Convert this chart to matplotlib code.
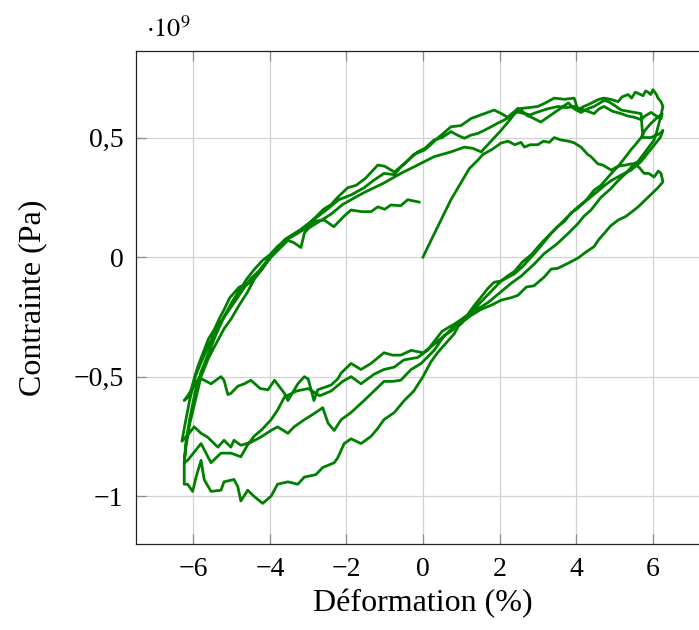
import numpy as np
import matplotlib
matplotlib.use("Agg")
import matplotlib.pyplot as plt
from matplotlib.ticker import FuncFormatter

# ================= STYLE ================= #
plt.rcParams['font.family'] = ['Liberation Serif', 'DejaVu Serif']
plt.rcParams['mathtext.fontset'] = 'stix'

LINE_COLOR = "#008000"
GRID_COLOR = "#d2d2d2"
TICK_COLOR = "#8c8c8c"

# ================= DATA (strain %, stress in 1e9 Pa) ================= #
# branches in the order the test ran: up = strain increasing, down = decreasing
up_1 = [(0, 0), (0.21, 0.07), (0.47, 0.155), (0.73, 0.24), (0.99, 0.31), (1.21, 0.37),
        (1.43, 0.405), (1.57, 0.43), (1.8, 0.45), (2.04, 0.477), (2.22, 0.485), (2.4, 0.47),
        (2.56, 0.48), (2.65, 0.46), (2.8, 0.47), (3.0, 0.47), (3.15, 0.485), (3.3, 0.48),
        (3.43, 0.5), (3.6, 0.49), (3.8, 0.485), (3.95, 0.478), (4.13, 0.46), (4.3, 0.43),
        (4.39, 0.42), (4.57, 0.39), (4.7, 0.385), (4.92, 0.364), (5.1, 0.38), (5.3, 0.385),
        (5.44, 0.39), (5.52, 0.39), (5.65, 0.375), (5.78, 0.35), (5.9, 0.35), (6.04, 0.335),
        (6.15, 0.36), (6.22, 0.35), (6.27, 0.315)]

down_1 = [(6.27, 0.315), (6.14, 0.29), (5.88, 0.25), (5.62, 0.21), (5.52, 0.197), (5.3, 0.17),
          (5.1, 0.155), (4.9, 0.13), (4.74, 0.1), (4.6, 0.075), (4.47, 0.044), (4.25, 0.02),
          (4.05, -0.004), (3.8, -0.025), (3.52, -0.047), (3.35, -0.05), (3.17, -0.083),
          (2.9, -0.12), (2.7, -0.125), (2.48, -0.16), (2.3, -0.17), (2.04, -0.18), (1.8, -0.2),
          (1.5, -0.22), (1.2, -0.25), (0.95, -0.28), (0.82, -0.32), (0.6, -0.36), (0.38, -0.4),
          (0.2, -0.44), (0.0, -0.5), (-0.24, -0.56), (-0.49, -0.6), (-0.75, -0.65),
          (-1.02, -0.68), (-1.2, -0.72), (-1.36, -0.75), (-1.62, -0.78), (-1.88, -0.76),
          (-2.06, -0.78), (-2.23, -0.84), (-2.32, -0.86), (-2.62, -0.88), (-2.8, -0.91),
          (-3.1, -0.92), (-3.27, -0.95), (-3.53, -0.94), (-3.8, -0.95), (-3.97, -1.0),
          (-4.19, -1.03), (-4.42, -1.0), (-4.58, -0.975), (-4.76, -1.02), (-4.84, -0.96),
          (-4.94, -0.93), (-5.2, -0.94), (-5.28, -0.975), (-5.54, -0.98), (-5.72, -0.93),
          (-5.8, -0.85), (-5.93, -0.92), (-6.02, -0.98), (-6.15, -0.95), (-6.24, -0.95)]

up_2 = [(-6.24, -0.95), (-6.24, -0.86), (-6.2, -0.8), (-6.1, -0.7), (-5.95, -0.6), (-5.8, -0.5),
        (-5.6, -0.42), (-5.4, -0.36), (-5.2, -0.3), (-5.02, -0.26), (-4.8, -0.2), (-4.6, -0.15),
        (-4.4, -0.09), (-4.2, -0.05), (-4.0, 0.0), (-3.8, 0.035), (-3.6, 0.075), (-3.4, 0.095),
        (-3.2, 0.115), (-3.0, 0.14), (-2.75, 0.17), (-2.5, 0.2), (-2.2, 0.24), (-1.88, 0.26),
        (-1.54, 0.29), (-1.3, 0.32), (-1.02, 0.35), (-0.75, 0.345), (-0.58, 0.377),
        (-0.35, 0.41), (-0.14, 0.44), (0.05, 0.455), (0.29, 0.49), (0.5, 0.5), (0.73, 0.525),
        (0.9, 0.51), (1.08, 0.497), (1.25, 0.51), (1.43, 0.517), (1.6, 0.53), (1.78, 0.545),
        (1.95, 0.56), (2.12, 0.573), (2.3, 0.59), (2.47, 0.607), (2.65, 0.6), (2.8, 0.595),
        (3.0, 0.607), (3.25, 0.62), (3.53, 0.63), (3.75, 0.625), (3.95, 0.63), (4.1, 0.62),
        (4.22, 0.615), (4.47, 0.6), (4.6, 0.62), (4.73, 0.63), (4.95, 0.61), (5.18, 0.6),
        (5.35, 0.59), (5.52, 0.585), (5.7, 0.575), (5.8, 0.59), (5.96, 0.605), (6.1, 0.59),
        (6.22, 0.58), (6.25, 0.6)]

down_2 = [(6.25, 0.6), (6.1, 0.58), (5.96, 0.56), (5.8, 0.53), (5.7, 0.5), (5.55, 0.47),
          (5.44, 0.45), (5.25, 0.41), (5.1, 0.38), (4.95, 0.355), (4.84, 0.335), (4.65, 0.3),
          (4.47, 0.28), (4.3, 0.245), (4.05, 0.205), (3.87, 0.185), (3.7, 0.15), (3.5, 0.125),
          (3.35, 0.1), (3.1, 0.06), (2.83, 0.01), (2.6, -0.02), (2.39, -0.06), (2.2, -0.08),
          (2.04, -0.1), (1.86, -0.105), (1.7, -0.13), (1.52, -0.167), (1.35, -0.2),
          (1.17, -0.24), (0.99, -0.27), (0.82, -0.29), (0.55, -0.33), (0.29, -0.39),
          (-0.05, -0.445), (-0.31, -0.47), (-0.58, -0.515), (-0.8, -0.52), (-1.02, -0.52),
          (-1.28, -0.56), (-1.54, -0.6), (-1.88, -0.65), (-2.14, -0.68), (-2.32, -0.725),
          (-2.48, -0.695), (-2.62, -0.63), (-2.85, -0.655), (-3.1, -0.68), (-3.37, -0.71),
          (-3.53, -0.737), (-3.8, -0.71), (-3.97, -0.725), (-4.24, -0.753), (-4.5, -0.775),
          (-4.76, -0.787), (-4.94, -0.766), (-5.02, -0.795), (-5.2, -0.766), (-5.36, -0.795),
          (-5.63, -0.753), (-5.8, -0.737), (-5.98, -0.71), (-6.15, -0.745), (-6.3, -0.77)]

up_3 = [(-6.3, -0.77), (-6.22, -0.7), (-6.1, -0.6), (-5.95, -0.5), (-5.8, -0.44), (-5.6, -0.37),
        (-5.36, -0.29), (-5.15, -0.24), (-4.89, -0.18), (-4.68, -0.13), (-4.5, -0.09),
        (-4.3, -0.06), (-4.1, -0.02), (-3.9, 0.02), (-3.7, 0.05), (-3.5, 0.08), (-3.27, 0.1),
        (-3.0, 0.13), (-2.85, 0.16), (-2.6, 0.2), (-2.4, 0.22), (-2.23, 0.25), (-1.97, 0.29),
        (-1.75, 0.3), (-1.5, 0.33), (-1.18, 0.385), (-1.0, 0.38), (-0.75, 0.356), (-0.49, 0.39),
        (-0.24, 0.43), (0.03, 0.447), (0.2, 0.47), (0.38, 0.497), (0.55, 0.52), (0.73, 0.545),
        (0.99, 0.55), (1.26, 0.58), (1.6, 0.6), (1.86, 0.615), (2.05, 0.6), (2.21, 0.585),
        (2.47, 0.62), (2.75, 0.625), (3.0, 0.63), (3.2, 0.645), (3.43, 0.665), (3.7, 0.66),
        (3.95, 0.665), (4.05, 0.615), (4.2, 0.63), (4.35, 0.64), (4.47, 0.65), (4.6, 0.66),
        (4.73, 0.665), (4.9, 0.66), (5.1, 0.65), (5.2, 0.67), (5.36, 0.68), (5.45, 0.665),
        (5.55, 0.69), (5.62, 0.685), (5.75, 0.675), (5.82, 0.695), (5.88, 0.69), (5.95, 0.68),
        (6.01, 0.7), (6.1, 0.68), (6.14, 0.665), (6.22, 0.65), (6.27, 0.63)]

down_3 = [(6.27, 0.63), (6.2, 0.58), (6.1, 0.52), (6.04, 0.49), (5.9, 0.46), (5.78, 0.435),
          (5.62, 0.4), (5.52, 0.39), (5.3, 0.35), (5.1, 0.32), (4.9, 0.285), (4.65, 0.25),
          (4.39, 0.197), (4.2, 0.17), (4.05, 0.14), (3.8, 0.1), (3.5, 0.055), (3.17, 0.015),
          (2.9, -0.03), (2.56, -0.08), (2.3, -0.11), (2.0, -0.15), (1.7, -0.19), (1.4, -0.22),
          (1.1, -0.25), (0.82, -0.28), (0.5, -0.31), (0.21, -0.37), (0.12, -0.39),
          (-0.14, -0.42), (-0.5, -0.43), (-0.75, -0.46), (-1.02, -0.47), (-1.28, -0.49),
          (-1.62, -0.53), (-1.88, -0.5), (-2.1, -0.52), (-2.4, -0.56), (-2.7, -0.58),
          (-3.0, -0.55), (-3.3, -0.56), (-3.62, -0.585), (-3.8, -0.64), (-3.97, -0.68),
          (-4.2, -0.72), (-4.42, -0.75), (-4.6, -0.79), (-4.76, -0.835), (-5.02, -0.82),
          (-5.28, -0.82), (-5.54, -0.86), (-5.8, -0.78), (-6.0, -0.82), (-6.15, -0.85),
          (-6.24, -0.86)]

up_4 = [(-6.24, -0.86), (-6.2, -0.78), (-6.1, -0.68), (-5.95, -0.56), (-5.8, -0.48), (-5.6, -0.4),
        (-5.4, -0.32), (-5.2, -0.25), (-5.0, -0.19), (-4.8, -0.14), (-4.6, -0.09), (-4.4, -0.05),
        (-4.2, -0.015), (-4.0, 0.01), (-3.8, 0.045), (-3.6, 0.07), (-3.4, 0.09), (-3.2, 0.11),
        (-3.0, 0.12), (-2.7, 0.15), (-2.4, 0.18), (-2.1, 0.22), (-1.88, 0.24), (-1.54, 0.27),
        (-1.02, 0.31), (-0.58, 0.35), (-0.14, 0.385), (0.29, 0.42), (0.73, 0.44), (1.08, 0.46),
        (1.3, 0.455), (1.52, 0.44), (1.75, 0.48), (2.04, 0.53), (2.3, 0.58), (2.47, 0.62),
        (2.56, 0.615), (2.74, 0.59), (2.83, 0.585), (3.08, 0.565), (3.26, 0.585), (3.53, 0.615),
        (3.8, 0.645), (3.95, 0.62), (4.13, 0.605), (4.3, 0.62), (4.47, 0.63), (4.73, 0.655),
        (4.85, 0.65), (5.0, 0.635), (5.18, 0.615), (5.35, 0.61), (5.52, 0.605), (5.7, 0.6),
        (5.72, 0.55), (5.75, 0.5), (5.96, 0.5), (6.1, 0.51), (6.22, 0.52), (6.27, 0.53)]

down_4 = [(6.27, 0.53), (6.2, 0.5), (6.0, 0.46), (5.85, 0.43), (5.7, 0.4), (5.44, 0.364),
          (5.2, 0.345), (4.92, 0.32), (4.75, 0.3), (4.6, 0.28), (4.3, 0.24), (4.05, 0.21),
          (3.87, 0.183), (3.6, 0.14), (3.35, 0.1), (3.1, 0.05), (2.83, 0.0), (2.6, -0.04),
          (2.39, -0.07), (2.04, -0.1), (1.8, -0.14), (1.5, -0.19), (1.17, -0.25), (0.99, -0.28),
          (0.55, -0.33), (0.21, -0.375), (0.0, -0.4), (-0.31, -0.39), (-0.58, -0.41),
          (-0.8, -0.41), (-1.02, -0.4), (-1.36, -0.445), (-1.62, -0.47), (-1.88, -0.445),
          (-2.14, -0.485), (-2.23, -0.51), (-2.4, -0.535), (-2.75, -0.555), (-2.85, -0.6),
          (-3.0, -0.51), (-3.1, -0.5), (-3.27, -0.53), (-3.53, -0.6), (-3.62, -0.57),
          (-3.88, -0.515), (-4.05, -0.555), (-4.25, -0.55), (-4.5, -0.515), (-4.67, -0.53),
          (-4.84, -0.54), (-5.02, -0.57), (-5.1, -0.575), (-5.2, -0.515), (-5.28, -0.5),
          (-5.54, -0.53), (-5.72, -0.515), (-5.85, -0.505), (-5.98, -0.54), (-6.15, -0.58),
          (-6.24, -0.6)]

up_5 = [(-6.24, -0.6), (-6.1, -0.58), (-6.0, -0.52), (-5.89, -0.46), (-5.72, -0.39), (-5.6, -0.34),
        (-5.46, -0.305), (-5.33, -0.26), (-5.2, -0.22), (-5.05, -0.17), (-4.94, -0.15),
        (-4.8, -0.125), (-4.7, -0.12), (-4.55, -0.11), (-4.4, -0.08), (-4.24, -0.055),
        (-3.97, 0.0), (-3.75, 0.035), (-3.53, 0.07), (-3.37, 0.06), (-3.19, 0.04), (-3.1, 0.1),
        (-2.85, 0.15), (-2.58, 0.155), (-2.33, 0.127), (-2.07, 0.17), (-1.88, 0.197),
        (-1.6, 0.19), (-1.36, 0.19), (-1.18, 0.21), (-1.0, 0.2), (-0.84, 0.218), (-0.58, 0.215),
        (-0.4, 0.24), (-0.25, 0.235), (-0.1, 0.23)]

BRANCHES = [up_1, down_1, up_2, down_2, up_3, down_3, up_4, down_4, up_5]

X_TICKS = [-6, -4, -2, 0, 2, 4, 6]
Y_TICKS = [-1e9, -0.5e9, 0, 0.5e9]

# ================= BUILD PATH ================= #
path = [p for branch in BRANCHES for p in branch]
strain = np.array([p[0] for p in path])
stress = np.array([p[1] for p in path]) * 1e9  # Pa


def fr_number(v, pos):
    return f"{v / 1e9:g}".replace(".", ",").replace("-", "\u2212")


def fr_int(v, pos):
    return f"{v:g}".replace("-", "\u2212")


# ================= FIGURE ================= #
fig = plt.figure(figsize=(6.99, 6.30), dpi=100)
ax = fig.add_axes([136 / 699, 86 / 630, 574 / 699, 493 / 630])

ax.plot(strain, stress, color=LINE_COLOR, lw=2.0, solid_joinstyle='round', zorder=3)

ax.set_xlim(-7.5, 7.5)
ax.set_ylim(-1.2e9, 0.862e9)
ax.set_xticks(X_TICKS)
ax.set_yticks(Y_TICKS)
ax.xaxis.set_major_formatter(FuncFormatter(fr_int))
ax.yaxis.set_major_formatter(FuncFormatter(fr_number))

ax.grid(True, color=GRID_COLOR, lw=0.9, zorder=0)
ax.tick_params(direction='in', length=7, width=0.9, color=TICK_COLOR,
               top=True, right=True, labelsize=20, pad=9)
for s in ax.spines.values():
    s.set_linewidth(0.9)
    s.set_color("#222222")

ax.set_xlabel("Déformation (%)", fontsize=23, labelpad=5)
ax.set_ylabel("Contrainte (Pa)", fontsize=23, labelpad=19)

fig.text(146 / 699, 1 - 37 / 630, r"$\cdot 10^{9}$", fontsize=19, ha='left', va='baseline')

fig.savefig("out.png", dpi=100)
